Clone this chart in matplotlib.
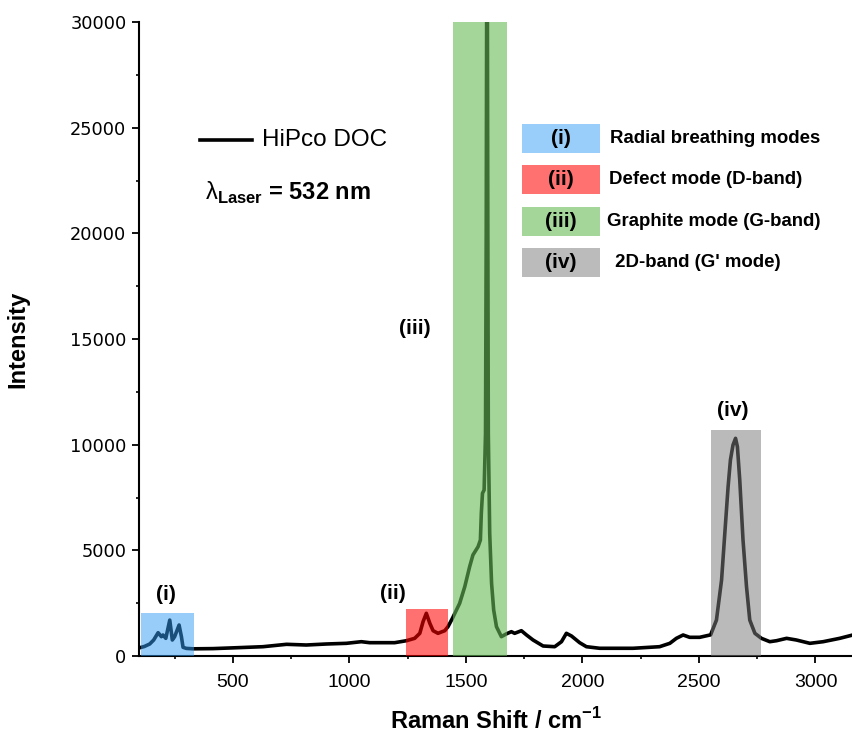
import matplotlib
matplotlib.use("Agg")
import matplotlib.pyplot as plt
from matplotlib import font_manager
from matplotlib.patches import Rectangle

# spectrum (cm-1, counts)
raman_shift = [107, 120, 143, 160, 179, 193, 200, 212, 229, 240, 250, 269, 279, 286, 300, 329,
               415, 500, 629, 730, 815, 901, 987, 1051, 1087, 1159, 1194, 1245, 1280, 1302,
               1316, 1330, 1345, 1359, 1380, 1409, 1423, 1442, 1473, 1495, 1516, 1530, 1552,
               1562, 1566, 1571, 1578, 1584, 1587, 1589, 1592, 1594, 1596, 1602, 1610, 1619,
               1631, 1652, 1674, 1695, 1709, 1738, 1760, 1788, 1831, 1881, 1910, 1931, 1953,
               1988, 2017, 2074, 2217, 2331, 2375, 2403, 2432, 2460, 2503, 2550, 2575, 2597,
               2611, 2625, 2635, 2646, 2657, 2665, 2675, 2689, 2704, 2718, 2740, 2768, 2804,
               2833, 2876, 2918, 2976, 3033, 3104, 3160]
intensity = [412, 450, 568, 757, 1103, 915, 994, 836, 1700, 757, 915, 1467, 915, 412, 360, 340,
             350, 385, 440, 553, 520, 568, 600, 677, 630, 630, 630, 724, 836, 1073,
             1623, 2020, 1547, 1197, 1073, 1197, 1387, 1784, 2490, 3280, 4230, 4780, 5170,
             5490, 6750, 7700, 7855, 10540, 20000, 31000, 31000, 20000, 10540, 5800, 3440, 2180,
             1387, 915, 1050, 1150, 1073, 1197, 994, 757, 473, 440, 677, 1073, 946,
             630, 440, 365, 365, 440, 600, 836, 994, 884, 884, 1000, 1700, 3600,
             5820, 8010, 9275, 9985, 10300, 9900, 8330, 5490, 3280, 1700, 1073, 836, 677,
             724, 836, 757, 600, 677, 836, 994]

# highlighted bands: (start, end, height)
band_start = [107, 1242, 1443, 2551]
band_end = [333, 1423, 1677, 2768]
band_top = [2050, 2210, 30000, 10700]
band_tags = ["(i)", "(ii)", "(iii)", "(iv)"]
band_names = ["Radial breathing modes", "Defect mode (D-band)",
              "Graphite mode (G-band)", " 2D-band (G' mode)"]
# label positions for the tags on the plot
tag_x = [212, 1186, 1281, 2645]
tag_y = [2890, 2980, 15520, 11640]

band_colors = [(153, 206, 251), (255, 112, 112), (164, 214, 154), (187, 187, 187)]
band_alpha = [0.5, 0.56, 0.6, 0.52]

names = {f.name for f in font_manager.fontManager.ttflist}
narrow = "Liberation Sans Narrow" if "Liberation Sans Narrow" in names else "Liberation Sans"
plt.rcParams["font.family"] = ["Liberation Sans", "DejaVu Sans"]
plt.rcParams["mathtext.fontset"] = "custom"
plt.rcParams["mathtext.rm"] = "Liberation Sans"
plt.rcParams["mathtext.bf"] = "Liberation Sans:bold"


def under_white(rgb, a):
    # colour that shows as rgb over white with alpha a
    return tuple(min(1, max(0, (c / 255 - (1 - a)) / a)) for c in rgb)


fig = plt.figure(figsize=(8.53, 7.38), dpi=100)
ax = fig.add_axes([139 / 853, 82 / 738, 714 / 853, 634 / 738])

ax.plot(raman_shift, intensity, color="black", lw=2.6, zorder=2)

for s, e, t, c, a in zip(band_start, band_end, band_top, band_colors, band_alpha):
    ax.add_patch(Rectangle((s, 0), e - s, t, facecolor=under_white(c, a), alpha=a,
                           edgecolor="none", zorder=3))

for tag, x, y in zip(band_tags, tag_x, tag_y):
    ax.text(x, y, tag, ha="center", va="center", fontsize=15, fontweight="bold", zorder=4)

ax.set_xlim(97, 3161)
ax.set_ylim(0, 30000)
ax.set_xticks([500, 1000, 1500, 2000, 2500, 3000])
ax.set_xticks(range(250, 3200, 500), minor=True)
ax.set_yticks(range(0, 30001, 5000))
ax.set_yticks(range(2500, 30000, 5000), minor=True)
for lab in ax.get_xticklabels():
    lab.set_family(narrow)
    lab.set_fontsize(14)
for lab in ax.get_yticklabels():
    lab.set_family("DejaVu Sans")
    lab.set_fontsize(12.8)
ax.tick_params(which="major", length=5, width=1.3, direction="out")
ax.tick_params(axis="x", which="major", pad=8)
ax.tick_params(axis="y", which="major", pad=4)
ax.tick_params(which="minor", length=2.5, width=1.2, direction="out")
ax.spines["top"].set_visible(False)
ax.spines["right"].set_visible(False)
ax.spines["left"].set_linewidth(1.5)
ax.spines["bottom"].set_linewidth(1.5)

ax.set_xlabel("Raman Shift / cm$^{\\mathbf{-1}}$", family=narrow, fontsize=17,
              fontweight="bold", labelpad=12)
ax.set_ylabel("Intensity", family=narrow, fontsize=17, fontweight="bold", labelpad=29)

# legend-like annotations in axes fraction
def fx(px):
    return (px - 139) / 714


def fy(py):
    return (656 - py) / 634


ax.plot([fx(200), fx(252)], [fy(140), fy(140)], color="black", lw=2.6,
        transform=ax.transAxes)
ax.text(fx(262), fy(140), "HiPco DOC", transform=ax.transAxes, fontsize=17.5,
        va="center", ha="left")
ax.text(fx(205), fy(193), "$\\mathrm{λ}_{\\mathbf{Laser}}$ = 532 nm", transform=ax.transAxes,
        fontsize=17, fontweight="bold", va="center", ha="left")

box_tops = [124, 165, 207, 248]
desc_left = [610, 609, 607, 610]
for top, tag, name, c, left in zip(box_tops, band_tags, band_names, band_colors, desc_left):
    ax.add_patch(Rectangle((fx(522), fy(top + 29)), fx(600) - fx(522), fy(top) - fy(top + 29),
                           transform=ax.transAxes, facecolor=tuple(v / 255 for v in c),
                           edgecolor="none", clip_on=False))
    ax.text((fx(522) + fx(600)) / 2, fy(top + 14.5), tag, transform=ax.transAxes,
            ha="center", va="center", fontsize=15, fontweight="bold")
    ax.text(fx(left), fy(top + 14.5), name, transform=ax.transAxes, ha="left",
            va="center", fontsize=13.4, fontweight="bold")

fig.savefig("out.png", dpi=100)
